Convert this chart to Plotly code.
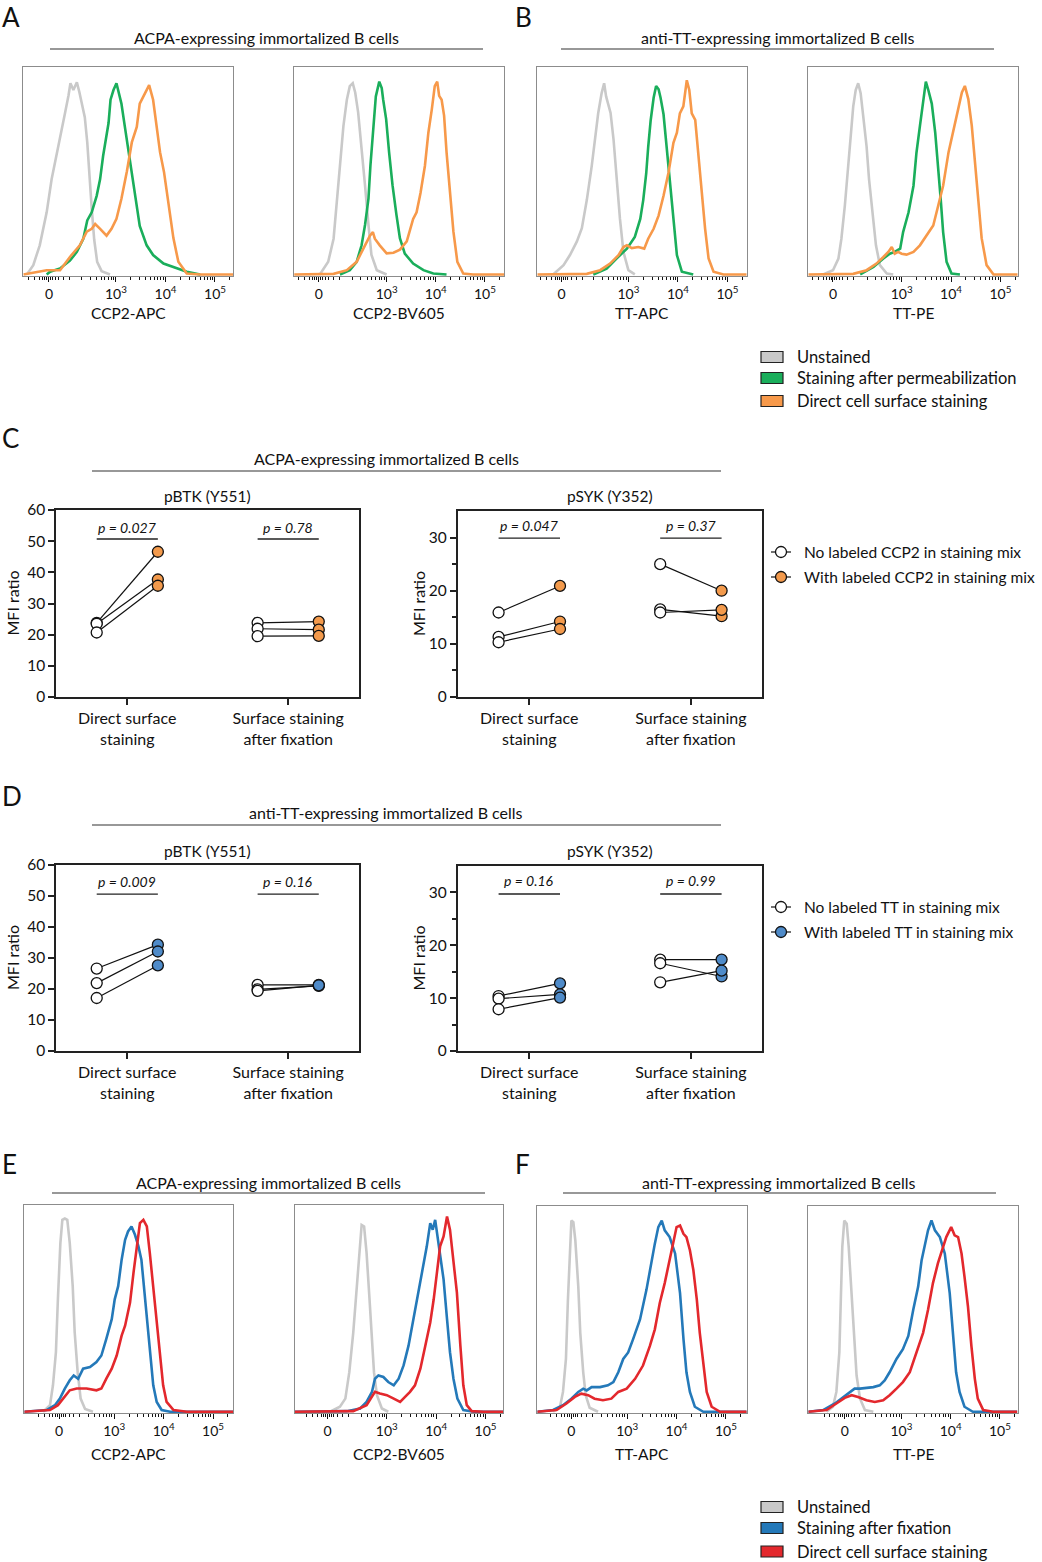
import math
import plotly.graph_objects as go

W, H = 1042, 1562
FONT = "Lato"

# ---------------- colours ----------------
GREY = "#c9c9c9"
GREEN = "#1aae5b"
ORANGE = "#f7994a"
BLUE = "#2479b9"
RED = "#e3282d"
DOT_ORANGE = "#f39a4c"
DOT_BLUE = "#4f8bc9"

# ---------------- histogram data (x in decades: 3 = 10^3; y = % of mode) ----------------
HIST_TICKTEXT = ["0", "10<sup>3</sup>", "10<sup>4</sup>", "10<sup>5</sup>"]
HIST_DECADES = [3, 4, 5]

a1_unst_x = [1.20,1.33,1.46,1.60,1.70,1.80,1.90,1.97,2.04,2.08,2.14,2.21,2.26,2.31,2.37,2.42,2.46,2.51,2.56,2.62,2.71,2.88]
a1_unst_y = [0,4.8,15,32,49,61,73,83,92,98.5,95,99,94,88,81,68,51,34,18,6.5,1.7,0]
a1_perm_x = [1.60,1.67,1.87,2.07,2.21,2.34,2.42,2.51,2.61,2.68,2.74,2.80,2.85,2.89,2.95,3.01,3.06,3.11,3.18,3.25,3.32,3.38,3.48,3.62,3.75,3.96,4.16,4.43,4.70]
a1_perm_y = [0,1.4,3.1,7.2,11.6,18.4,27.8,32.0,40.5,49.1,61,71,78,90,95,98.5,93,88,76,64,51,40,25,15,10,5.6,3.9,1.4,0]
a1_surf_x = [1.13,1.60,1.87,2.07,2.27,2.41,2.51,2.58,2.68,2.81,2.91,3.01,3.11,3.22,3.32,3.42,3.48,3.59,3.67,3.75,3.82,3.89,3.97,4.06,4.16,4.26,4.43,4.70,5.37]
a1_surf_y = [0,2.2,2.2,9,15,22,23.5,26,23.5,20,23.5,28.6,39,53,68,76,88,94,97.5,90,76,63,52.8,35.8,18.7,6.5,0.5,0,0]

a2_unst_x = [1.64,1.81,1.92,1.98,2.05,2.12,2.19,2.25,2.31,2.36,2.42,2.49,2.56,2.63,2.69,2.80,3.0]
a2_unst_y = [0,6.5,18.4,35.4,56,76.4,90,97,98.5,93.7,83.5,66.4,45.9,25.5,10.2,2.2,0]
a2_perm_x = [2.05,2.25,2.39,2.49,2.56,2.63,2.67,2.73,2.78,2.85,2.90,2.93,2.99,3.05,3.12,3.20,3.27,3.37,3.54,3.75,3.95,4.22]
a2_perm_y = [0,2.2,6.5,15,25.5,39,56,76.4,91.7,99.3,96,90,80,63,46,30.7,18.7,10.7,5.6,2.2,0.5,0]
a2_surf_x = [1.10,1.92,2.19,2.39,2.56,2.66,2.72,2.76,2.86,3.0,3.14,3.27,3.41,3.54,3.61,3.69,3.78,3.85,3.92,3.98,4.03,4.07,4.12,4.17,4.22,4.29,4.36,4.44,4.56,4.76,5.39]
a2_surf_y = [0,0.3,2.2,6.5,15,20,21.8,18.4,15,10.9,11.2,12.8,17,28.6,32,42,56,73,85,97,99.3,92,90,81.8,63,42,22,6.5,0.5,0,0]

b1_unst_x = [1.48,1.69,1.82,1.96,2.06,2.16,2.26,2.33,2.39,2.46,2.51,2.55,2.60,2.64,2.70,2.76,2.83,2.90,3.0,3.13]
b1_unst_y = [0,4.8,10,17,23.8,38.3,55.9,69.5,83,93.4,98.5,91.7,86.6,83.2,69.5,49,28.6,11.6,2.2,0]
b1_perm_x = [2.29,2.56,2.76,2.97,3.13,3.24,3.30,3.36,3.40,3.45,3.51,3.56,3.61,3.65,3.71,3.77,3.84,3.91,3.98,4.08,4.31]
b1_perm_y = [0,3,8.2,13.3,19.3,28.6,38.3,52,65.6,79.3,91,97.1,95.4,91,82.5,67,49,28.6,10,1.4,0]
b1_surf_x = [1.16,2.16,2.43,2.63,2.80,2.90,2.97,3.07,3.20,3.32,3.40,3.51,3.61,3.71,3.81,3.91,3.98,4.04,4.11,4.18,4.23,4.28,4.35,4.41,4.48,4.55,4.62,4.72,4.92,5.39]
b1_surf_y = [0,0.3,2.2,5.6,9.9,14.1,15,13.6,14.1,13.3,18.4,23.5,30.3,40.5,52.4,67.8,73,83,86.6,100,95,83,79.6,62.6,42.3,23.5,8.2,1.4,0,0]

b2_unst_x = [1.41,1.61,1.72,1.78,1.85,1.92,1.97,2.02,2.07,2.12,2.17,2.22,2.29,2.34,2.41,2.48,2.56,2.70,2.83]
b2_unst_y = [0,2.2,8.2,18.4,35.4,56,73,86.6,95,98.5,93.4,83.2,66,49,32,15,4.8,0.5,0]
b2_perm_x = [2.16,2.43,2.63,2.76,2.86,2.97,3.03,3.14,3.24,3.30,3.37,3.44,3.49,3.54,3.61,3.68,3.74,3.79,3.84,3.91,4.01,4.18]
b2_perm_y = [0,3.9,8.2,10.7,11.6,13.3,21.8,32,45.7,62.7,76.4,90,99.3,95,88,73,56,39,21.8,6.5,0.5,0]
b2_surf_x = [1.11,2.02,2.29,2.49,2.63,2.73,2.80,2.86,2.93,3.0,3.10,3.24,3.37,3.51,3.64,3.74,3.84,3.95,4.05,4.15,4.22,4.28,4.35,4.42,4.49,4.55,4.62,4.72,4.86,5.35]
b2_surf_y = [0,0.3,2.2,5.6,9,11.6,14.1,10.7,11.6,10.7,10.2,11.6,15,20,25.2,35.4,45.7,63,75,87,93.7,97.1,90.3,76.7,56.2,35.8,18.7,4.8,0,0]

e1_unst_x = [1.56,1.70,1.76,1.82,1.86,1.91,1.95,2.0,2.05,2.10,2.16,2.20,2.26,2.32,2.41,2.57]
e1_unst_y = [0,3.4,13.7,30.8,58.2,87.3,99.3,100,99.3,87.3,65,41,20.5,6.8,1.4,0]
e1_fix_x = [1.18,1.63,1.80,1.90,2.0,2.10,2.18,2.27,2.37,2.51,2.64,2.74,2.84,2.95,3.01,3.08,3.15,3.22,3.28,3.35,3.42,3.49,3.55,3.60,3.66,3.72,3.79,3.86,3.96,4.13,5.41]
e1_fix_y = [0,0.9,3.4,6.8,12,16.3,18.8,17.1,22.3,23.1,25.7,29.1,37.7,47.9,58.2,65,78.7,89,93.3,95.9,91.6,85.6,78.7,65,49.6,30.8,13.7,5.1,0.9,0,0]
e1_surf_x = [1.18,1.70,1.86,2.0,2.10,2.24,2.44,2.64,2.74,2.84,2.95,3.05,3.15,3.22,3.32,3.39,3.45,3.52,3.59,3.66,3.72,3.79,3.86,3.93,3.99,4.06,4.20,4.47,5.41]
e1_surf_y = [0,0.9,3.4,7.7,11.1,12,12,11.1,12,17.1,22.3,29.1,39.4,44.5,56.5,71.9,83.9,97.6,99.3,95.9,82.2,65,47.9,27.4,13.7,5.1,0.9,0,0]

e2_unst_x = [1.85,2.05,2.16,2.24,2.32,2.39,2.45,2.49,2.54,2.59,2.65,2.70,2.74,2.80,2.90,3.03]
e2_unst_y = [0,2.6,6.8,20.5,41,65,85.6,96.7,95.9,82.2,58.2,37.7,20.5,8.6,1.7,0]
e2_fix_x = [1.14,2.19,2.46,2.59,2.70,2.76,2.83,2.93,3.03,3.14,3.24,3.34,3.44,3.54,3.62,3.71,3.81,3.88,3.93,3.98,4.03,4.08,4.15,4.22,4.28,4.35,4.43,4.55,4.76,5.36]
e2_fix_y = [0,0.3,1.7,5.1,10.3,17.1,18.8,18,15.4,13.7,17.1,24,34.2,47.9,58.2,71.9,85.6,97.6,94.2,99.3,90.7,80.5,68.5,47.9,30.8,17.1,6.8,0.9,0,0]
e2_surf_x = [1.14,2.32,2.59,2.70,2.76,2.86,3.0,3.14,3.27,3.37,3.47,3.57,3.68,3.78,3.88,3.95,4.01,4.08,4.15,4.22,4.28,4.35,4.42,4.49,4.55,4.62,4.72,4.96,5.36]
e2_surf_y = [0,0.3,3.4,7.7,10.3,9.4,8.6,6.8,5.1,7.7,10.3,13.7,22.3,34.2,46.2,58.2,71.9,85.6,90.7,101,94.2,78.7,61.6,34.2,13.7,3.4,0.3,0,0]

f1_unst_x = [1.50,1.64,1.70,1.76,1.80,1.84,1.87,1.91,1.95,2.01,2.05,2.11,2.16,2.24,2.41]
f1_unst_y = [0,2.6,10.3,27.4,58.2,87.3,99.3,98.4,89,65,41,20.5,8.6,2.1,0]
f1_fix_x = [1.18,1.50,1.70,1.87,2.01,2.11,2.18,2.28,2.45,2.61,2.72,2.82,2.92,3.02,3.12,3.26,3.39,3.49,3.56,3.63,3.70,3.76,3.86,3.97,4.07,4.14,4.20,4.27,4.37,4.54,5.42]
f1_fix_y = [0,0.9,3.4,6.8,10.3,12,11.1,12.8,12.8,13.7,15.4,20.5,27.4,30.8,37.7,47.9,63.3,78.7,87.3,95.9,99.3,94.2,90.7,82.2,61.6,37.7,20.5,10.3,2.6,0,0]
f1_surf_x = [1.18,1.57,1.77,1.94,2.07,2.21,2.34,2.51,2.68,2.82,2.99,3.16,3.32,3.46,3.56,3.66,3.76,3.83,3.90,4.0,4.07,4.14,4.20,4.27,4.34,4.41,4.47,4.54,4.61,4.71,4.88,5.42]
f1_surf_y = [0,0.9,4.3,7.7,9.4,8.6,6.8,6,6.8,10.3,12,17.1,24,34.2,42.8,56.5,66.8,75.3,85.6,95.9,96.7,92.4,90.7,83.9,73.6,58.2,41,24,10.3,2.6,0,0]

f2_unst_x = [1.48,1.61,1.68,1.74,1.77,1.80,1.84,1.89,1.93,1.99,2.04,2.09,2.16,2.26,2.43]
f2_unst_y = [0,2.6,10.3,30.8,58.2,85.6,99.3,97.6,85.6,61.6,37.7,18.8,6.8,0.9,0]
f2_fix_x = [1.11,1.41,1.65,1.82,1.95,2.05,2.16,2.29,2.43,2.56,2.66,2.76,2.90,3.03,3.14,3.24,3.34,3.41,3.47,3.54,3.61,3.68,3.78,3.88,3.98,4.05,4.11,4.18,4.28,4.45,5.35]
f2_fix_y = [0,0.9,4.3,7.7,10.3,12,12,12.3,12.8,13.7,16.3,20.5,27.4,32.5,39.4,53,65,78.7,85.6,94.2,99.3,94.2,90.7,82.2,61.6,41,20.5,10.3,2.6,0,0]
f2_surf_x = [1.11,1.48,1.68,1.85,1.99,2.12,2.29,2.46,2.63,2.76,2.90,3.03,3.17,3.30,3.44,3.54,3.64,3.74,3.81,3.91,4.01,4.08,4.15,4.22,4.28,4.35,4.42,4.49,4.55,4.66,4.86,5.35]
f2_surf_y = [0,0.9,4.3,7.2,8.6,7.7,6,5.1,6,8.6,12,15.4,20.5,30.8,41,53,66.8,77,82.2,90.7,95.9,91.6,90.7,82.2,70.2,54.8,34.2,17.1,6.8,0.9,0,0]

# ---------------- MFI ratio data (3 donors/clones) ----------------
CATEGORIES = ["Direct surface<br>staining", "Surface staining<br>after fixation"]

c_btk_direct_no = [23.8, 23.5, 20.7]
c_btk_direct_with = [46.6, 37.7, 35.7]
c_btk_fix_no = [23.8, 21.9, 19.5]
c_btk_fix_with = [24.2, 21.6, 19.6]
c_syk_direct_no = [15.9, 11.3, 10.3]
c_syk_direct_with = [20.9, 14.2, 12.8]
c_syk_fix_no = [25.0, 16.5, 15.9]
c_syk_fix_with = [20.0, 15.2, 16.4]

d_btk_direct_no = [26.6, 21.9, 17.1]
d_btk_direct_with = [34.3, 32.1, 27.6]
d_btk_fix_no = [21.3, 19.9, 19.4]
d_btk_fix_with = [21.3, 21.0, 21.2]
d_syk_direct_no = [10.4, 9.9, 7.9]
d_syk_direct_with = [12.8, 10.7, 10.1]
d_syk_fix_no = [17.3, 16.6, 13.0]
d_syk_fix_with = [17.3, 14.1, 15.2]

c_pvals_btk = ["p = 0.027", "p = 0.78"]
c_pvals_syk = ["p = 0.047", "p = 0.37"]
d_pvals_btk = ["p = 0.009", "p = 0.16"]
d_pvals_syk = ["p = 0.16", "p = 0.99"]

# ---------------- helpers ----------------
fig = go.Figure()
_n = [0]


def PX(x):
    return x / W


def PY(y):
    return 1 - y / H


def new_axes(xpx, ypx, xrange, yrange, xopts, yopts):
    _n[0] += 1
    n = _n[0]
    sx = "" if n == 1 else str(n)
    fig.update_layout(**{
        "xaxis" + sx: dict(domain=[PX(xpx[0]), PX(xpx[1])], range=xrange,
                           anchor="y" + sx, automargin=False, **xopts),
        "yaxis" + sx: dict(domain=[PY(ypx[1]), PY(ypx[0])], range=yrange,
                           anchor="x" + sx, automargin=False, **yopts),
    })
    return "x" + sx, "y" + sx


annotations = []
shapes = []


def text(x, y, s, size=15, xanchor="center", yanchor="middle", angle=0, italic=False, xref="paper", yref="paper"):
    if italic:
        s = "<i>" + s + "</i>"
    annotations.append(dict(x=x, y=y, xref=xref, yref=yref, text=s, showarrow=False,
                            xanchor=xanchor, yanchor=yanchor, textangle=angle,
                            font=dict(family=FONT, size=size, color="#111")))


def hline_px(x0, x1, y, color="#444", width=1.2):
    shapes.append(dict(type="line", xref="paper", yref="paper", x0=PX(x0), x1=PX(x1),
                       y0=PY(y), y1=PY(y), line=dict(color=color, width=width)))


# ---------------- histograms ----------------
hist_panels = [
    ((23.3, 233.3), (66.7, 276), [1.128, 5.37], 1.646, "CCP2-APC", 313,
     [(a1_unst_x, a1_unst_y, GREY), (a1_perm_x, a1_perm_y, GREEN), (a1_surf_x, a1_surf_y, ORANGE)]),
    ((294.3, 504), (66.7, 276), [1.12, 5.39], 1.62, "CCP2-BV605", 313,
     [(a2_unst_x, a2_unst_y, GREY), (a2_perm_x, a2_perm_y, GREEN), (a2_surf_x, a2_surf_y, ORANGE)]),
    ((537.3, 746.7), (66.7, 276), [1.16, 5.39], 1.65, "TT-APC", 313,
     [(b1_unst_x, b1_unst_y, GREY), (b1_perm_x, b1_perm_y, GREEN), (b1_surf_x, b1_surf_y, ORANGE)]),
    ((808.3, 1017.7), (66.7, 276), [1.11, 5.35], 1.61, "TT-PE", 313,
     [(b2_unst_x, b2_unst_y, GREY), (b2_perm_x, b2_perm_y, GREEN), (b2_surf_x, b2_surf_y, ORANGE)]),
    ((24.3, 233.3), (1205, 1413.3), [1.18, 5.41], 1.885, "CCP2-APC", 1454,
     [(e1_unst_x, e1_unst_y, GREY), (e1_fix_x, e1_fix_y, BLUE), (e1_surf_x, e1_surf_y, RED)]),
    ((295, 503.3), (1205, 1413.3), [1.14, 5.36], 1.80, "CCP2-BV605", 1454,
     [(e2_unst_x, e2_unst_y, GREY), (e2_fix_x, e2_fix_y, BLUE), (e2_surf_x, e2_surf_y, RED)]),
    ((537.3, 746.7), (1205.7, 1413.3), [1.18, 5.42], 1.87, "TT-APC", 1454,
     [(f1_unst_x, f1_unst_y, GREY), (f1_fix_x, f1_fix_y, BLUE), (f1_surf_x, f1_surf_y, RED)]),
    ((808.3, 1017.7), (1205.7, 1413.3), [1.11, 5.36], 1.85, "TT-PE", 1454,
     [(f2_unst_x, f2_unst_y, GREY), (f2_fix_x, f2_fix_y, BLUE), (f2_surf_x, f2_surf_y, RED)]),
]

for xpx, ypx, xr, zero, title, ty, curves in hist_panels:
    minor_vals = [zero + d for d in (-0.42, -0.3, -0.2, -0.13, -0.08, -0.04, 0.04, 0.08, 0.13, 0.2, 0.3, 0.42)]
    for e in (2, 3, 4, 5):
        for k in range(2, 10):
            v = math.log10(k * 10 ** e)
            if zero + 0.55 < v < xr[1]:
                minor_vals.append(v)
    xopts = dict(tickmode="array", tickvals=[zero] + HIST_DECADES, ticktext=HIST_TICKTEXT,
                 ticks="outside", ticklen=5, tickwidth=1.2, tickcolor="#111",
                 tickfont=dict(family=FONT, size=14, color="#111"),
                 showline=True, linecolor="#8c8c8c", linewidth=1.2, mirror=True,
                 showgrid=False, zeroline=False,
                 minor=dict(tickmode="array", tickvals=minor_vals, ticks="outside",
                            ticklen=3, tickwidth=1, tickcolor="#111"))
    yopts = dict(showticklabels=False, ticks="", showline=True, linecolor="#8c8c8c",
                 linewidth=1.2, mirror=True, showgrid=False, zeroline=False)
    xref, yref = new_axes(xpx, ypx, xr, [-0.8, 107], xopts, yopts)
    for cx, cy, col in curves:
        fig.add_trace(go.Scatter(x=cx, y=cy, mode="lines", line=dict(color=col, width=2.6),
                                 xaxis=xref, yaxis=yref, showlegend=False, hoverinfo="skip"))
    text(PX((xpx[0] + xpx[1]) / 2), PY(ty), title, size=15.5)

# ---------------- paired dot plots ----------------
OFF = 0.19
dot_panels = [
    ((56, 359), (510, 697), [0, 60], list(range(0, 61, 10)), [], "pBTK (Y551)", 496,
     [(c_btk_direct_no, c_btk_direct_with), (c_btk_fix_no, c_btk_fix_with)], DOT_ORANGE,
     c_pvals_btk, 54.5, 50.7, 12),
    ((457.7, 762), (511, 697), [0, 35], [0, 10, 20, 30], [5, 15, 25], "pSYK (Y352)", 496,
     [(c_syk_direct_no, c_syk_direct_with), (c_syk_fix_no, c_syk_fix_with)], DOT_ORANGE,
     c_pvals_syk, 32.2, 29.9, 418),
    ((56, 359), (865, 1051), [0, 60], list(range(0, 61, 10)), [], "pBTK (Y551)", 851,
     [(d_btk_direct_no, d_btk_direct_with), (d_btk_fix_no, d_btk_fix_with)], DOT_BLUE,
     d_pvals_btk, 54.8, 50.6, 12),
    ((457.7, 762), (866, 1051), [0, 35], [0, 10, 20, 30], [5, 15, 25], "pSYK (Y352)", 851,
     [(d_syk_direct_no, d_syk_direct_with), (d_syk_fix_no, d_syk_fix_with)], DOT_BLUE,
     d_pvals_syk, 32.2, 29.7, 418),
]

for xpx, ypx, yr, ytv, ymin, title, title_y, groups, fillc, pvals, p_text_y, p_line_y, ytitle_x in dot_panels:
    xopts = dict(tickmode="array", tickvals=[0, 1], ticktext=CATEGORIES, ticks="outside",
                 ticklen=6, tickwidth=1.5, tickcolor="#222",
                 tickfont=dict(family=FONT, size=16, color="#111"),
                 showline=True, linecolor="#222", linewidth=1.5, mirror=True,
                 showgrid=False, zeroline=False)
    yopts = dict(tickmode="array", tickvals=ytv, ticks="outside", ticklen=6, tickwidth=1.5,
                 tickcolor="#222", tickfont=dict(family=FONT, size=15.5, color="#111"),
                 showline=True, linecolor="#222", linewidth=1.5, mirror=True,
                 showgrid=False, zeroline=False)
    if ymin:
        yopts["minor"] = dict(tickmode="array", tickvals=ymin, ticks="outside", ticklen=4,
                              tickwidth=1.5, tickcolor="#222")
    xref, yref = new_axes(xpx, ypx, [-0.443, 1.44], yr, xopts, yopts)
    for ci, (no_vals, with_vals) in enumerate(groups):
        for a, b in zip(no_vals, with_vals):
            fig.add_trace(go.Scatter(x=[ci - OFF, ci + OFF], y=[a, b], mode="lines",
                                     line=dict(color="#111", width=1.2), xaxis=xref, yaxis=yref,
                                     showlegend=False, hoverinfo="skip"))
        fig.add_trace(go.Scatter(x=[ci - OFF] * len(no_vals), y=no_vals, mode="markers",
                                 marker=dict(size=11, color="white", line=dict(color="#111", width=1.3)),
                                 xaxis=xref, yaxis=yref, showlegend=False, hoverinfo="skip"))
        fig.add_trace(go.Scatter(x=[ci + OFF] * len(with_vals), y=with_vals, mode="markers",
                                 marker=dict(size=11, color=fillc, line=dict(color="#111", width=1.3)),
                                 xaxis=xref, yaxis=yref, showlegend=False, hoverinfo="skip"))
        shapes.append(dict(type="line", xref=xref, yref=yref, x0=ci - OFF, x1=ci + OFF,
                           y0=p_line_y, y1=p_line_y, line=dict(color="#222", width=1.3)))
        text(ci, p_text_y, pvals[ci], size=14, italic=True, xref=xref, yref=yref)
    text(PX((xpx[0] + xpx[1]) / 2), PY(title_y), title, size=15.5)
    text(PX(ytitle_x), PY((ypx[0] + ypx[1]) / 2), "MFI ratio", size=16, angle=-90)

# ---------------- section headers ----------------
section_headers = [
    ("ACPA-expressing immortalized B cells", 266, 37, 50, 483, 49),
    ("anti-TT-expressing immortalized B cells", 778, 37, 561, 994, 49),
    ("ACPA-expressing immortalized B cells", 386, 458, 92, 721, 471),
    ("anti-TT-expressing immortalized B cells", 386, 812, 92, 721, 825),
    ("ACPA-expressing immortalized B cells", 268, 1182, 52, 485, 1193),
    ("anti-TT-expressing immortalized B cells", 779, 1182, 563, 996, 1193),
]
for s, tx, ty, lx0, lx1, ly in section_headers:
    text(PX(tx), PY(ty), s, size=16)
    hline_px(lx0, lx1, ly, color="#333", width=1.2)

# ---------------- panel letters ----------------
for letter, lx, ly in [("A", 0, 17), ("B", 513, 17), ("C", 0, 438), ("D", 0, 796),
                       ("E", 0, 1164), ("F", 513, 1164)]:
    text(PX(lx), PY(ly), letter, size=26, xanchor="left")

# ---------------- legends ----------------
hist_legend_top = [("Unstained", GREY), ("Staining after permeabilization", GREEN),
                   ("Direct cell surface staining", ORANGE)]
hist_legend_bottom = [("Unstained", GREY), ("Staining after fixation", BLUE),
                      ("Direct cell surface staining", RED)]
for items, rows in [(hist_legend_top, [357, 378, 401]), (hist_legend_bottom, [1507, 1528, 1551.5])]:
    for (lab, col), ry in zip(items, rows):
        shapes.append(dict(type="rect", xref="paper", yref="paper", x0=PX(761), x1=PX(783),
                           y0=PY(ry + 5.5), y1=PY(ry - 5.5), fillcolor=col,
                           line=dict(color="#222", width=1.2)))
        text(PX(795), PY(ry), lab, size=16.5, xanchor="left")

dot_legend_c = [("No labeled CCP2 in staining mix", "white"), ("With labeled CCP2 in staining mix", DOT_ORANGE)]
dot_legend_d = [("No labeled TT in staining mix", "white"), ("With labeled TT in staining mix", DOT_BLUE)]
for items, rows in [(dot_legend_c, [552, 577]), (dot_legend_d, [907, 932])]:
    for (lab, col), ry in zip(items, rows):
        hline_px(771, 791, ry, color="#111", width=1.2)
        shapes.append(dict(type="circle", xref="paper", yref="paper", xsizemode="pixel",
                           ysizemode="pixel", xanchor=PX(781), yanchor=PY(ry),
                           x0=-5.5, x1=5.5, y0=-5.5, y1=5.5, fillcolor=col,
                           line=dict(color="#111", width=1.3)))
        text(PX(802), PY(ry), lab, size=15.5, xanchor="left")

fig.update_layout(width=W, height=H, autosize=False, margin=dict(l=0, r=0, t=0, b=0, pad=0),
                  paper_bgcolor="white", plot_bgcolor="white", showlegend=False,
                  font=dict(family=FONT, color="#111"),
                  annotations=annotations, shapes=shapes)

fig.write_html(
    "out.html",
    config={"displayModeBar": False},
    post_script="document.body.style.margin='0';",
)
